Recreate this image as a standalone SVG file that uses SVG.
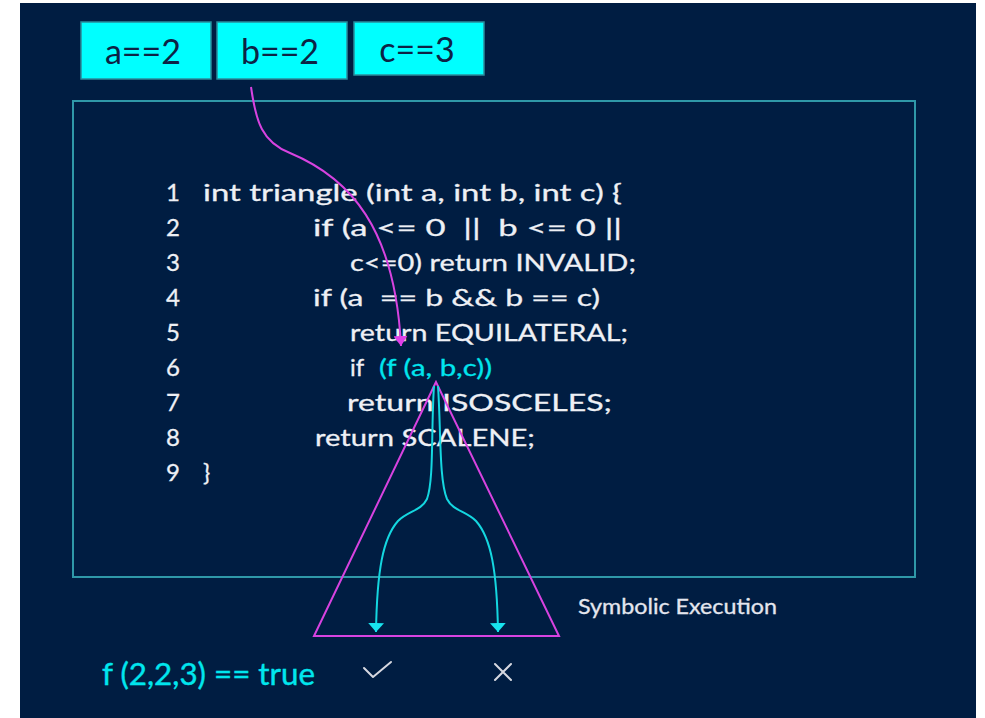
<svg xmlns="http://www.w3.org/2000/svg" width="985" height="718" viewBox="0 0 985 718">
<defs>
<style>
.code{font-family:Lato,"Open Sans","Liberation Sans",sans-serif;font-size:24px;fill:#eef0f5;white-space:pre;stroke:#eef0f5;stroke-width:0.3}
.cy{fill:#00e6ee;stroke:#00e6ee}
.box{fill:#00ffff;stroke:#2b8c9c;stroke-width:1.5}
.boxt{font-family:Lato,"Open Sans","Liberation Sans",sans-serif;font-size:34px;fill:#0d2345;text-anchor:middle}
.mag{fill:none;stroke:#d743e0;stroke-width:2}
.cyl{fill:none;stroke:#14d7e0;stroke-width:2}
.mark{fill:none;stroke:#d6d8e0;stroke-width:2;stroke-linecap:round;stroke-linejoin:round}
</style>
<marker id="am" viewBox="0 0 10 10" preserveAspectRatio="none" refX="10" refY="5" markerWidth="5" markerHeight="7" orient="auto" markerUnits="strokeWidth">
<path d="M0,0 L10,5 L0,10 z" fill="#e040e8"/>
</marker>
<marker id="ac" viewBox="0 0 10 10" preserveAspectRatio="none" refX="10" refY="5" markerWidth="4.5" markerHeight="8" orient="auto" markerUnits="strokeWidth">
<path d="M0,0 L10,5 L0,10 z" fill="#18e4ee"/>
</marker>
</defs>
<rect x="0" y="0" width="985" height="718" fill="#ffffff"/>
<rect x="20" y="3" width="956" height="715" fill="#001d42"/>
<g id="frame">
<rect x="73" y="101" width="842" height="476" fill="none" stroke="#2f98a8" stroke-width="2"/>
</g>
<g id="box-a"><rect class="box" x="81" y="22" width="130" height="57"/><text class="boxt" x="143" y="64">a==2</text></g>
<g id="box-b"><rect class="box" x="217" y="22" width="130" height="57"/><text class="boxt" x="280" y="64">b==2</text></g>
<g id="box-c"><rect class="box" x="354" y="22" width="130" height="53"/><text class="boxt" x="417" y="62">c==3</text></g>
<g id="code">
<text class="code" x="166" y="201">1</text>
<text class="code" x="203" y="201" textLength="419" lengthAdjust="spacingAndGlyphs">int triangle (int a, int b, int c) {</text>
<text class="code" x="166" y="236">2</text>
<text class="code" x="313" y="236" textLength="309" lengthAdjust="spacingAndGlyphs">if (a &lt;= 0  ||  b &lt;= 0 ||</text>
<text class="code" x="166" y="271">3</text>
<text class="code" x="350" y="271" textLength="286" lengthAdjust="spacingAndGlyphs">c&lt;=0) return INVALID;</text>
<text class="code" x="166" y="306">4</text>
<text class="code" x="313" y="306" textLength="287" lengthAdjust="spacingAndGlyphs">if (a  == b &amp;&amp; b == c)</text>
<text class="code" x="166" y="341">5</text>
<text class="code" x="350" y="341" textLength="278" lengthAdjust="spacingAndGlyphs">return EQUILATERAL;</text>
<text class="code" x="166" y="376">6</text>
<text class="code" x="350" y="376">if</text>
<text class="code cy" x="379" y="376" textLength="113" lengthAdjust="spacingAndGlyphs">(f (a, b,c))</text>
<text class="code" x="166" y="411">7</text>
<text class="code" x="347" y="411" textLength="265" lengthAdjust="spacingAndGlyphs">return ISOSCELES;</text>
<text class="code" x="166" y="446">8</text>
<text class="code" x="315" y="446" textLength="220" lengthAdjust="spacingAndGlyphs">return SCALENE;</text>
<text class="code" x="166" y="481">9</text>
<text class="code" x="203" y="481">}</text>
</g>
<g id="symbolic-tree">
<polygon points="436,382 314,636 559,636" fill="none" stroke="#d743e0" stroke-width="2"/>
</g>
<g id="connectors">
<path class="mag" d="M251,87 C256,122 262,142 290,153 C350,178 395,228 401,346" marker-end="url(#am)"/>
<path class="cyl" d="M434,386 C431,430 434,480 427,499 C421,511 408,511 398,521 C383,538 377,570 376,632" marker-end="url(#ac)"/>
<path class="cyl" d="M438,386 C441,430 439,480 447,499 C453,511 466,511 476,521 C491,538 497,570 498,632" marker-end="url(#ac)"/>
</g>
<g id="labels">
<text x="578" y="614" font-family="Lato,'Open Sans','Liberation Sans',sans-serif" font-size="21" fill="#e4e6ee" stroke="#e4e6ee" stroke-width="0.3" textLength="199" lengthAdjust="spacingAndGlyphs">Symbolic Execution</text>
<text x="102" y="685" font-family="Lato,'Open Sans','Liberation Sans',sans-serif" font-size="31" fill="#00e6ee" stroke="#00e6ee" stroke-width="0.4" textLength="213" lengthAdjust="spacingAndGlyphs" style="white-space:pre">f (2,2,3) == true</text>
<polyline class="mark" points="364,668 373,677 391,662"/>
<path class="mark" d="M495,664 L511,680 M511,664 L495,680"/>
</g>
</svg>
